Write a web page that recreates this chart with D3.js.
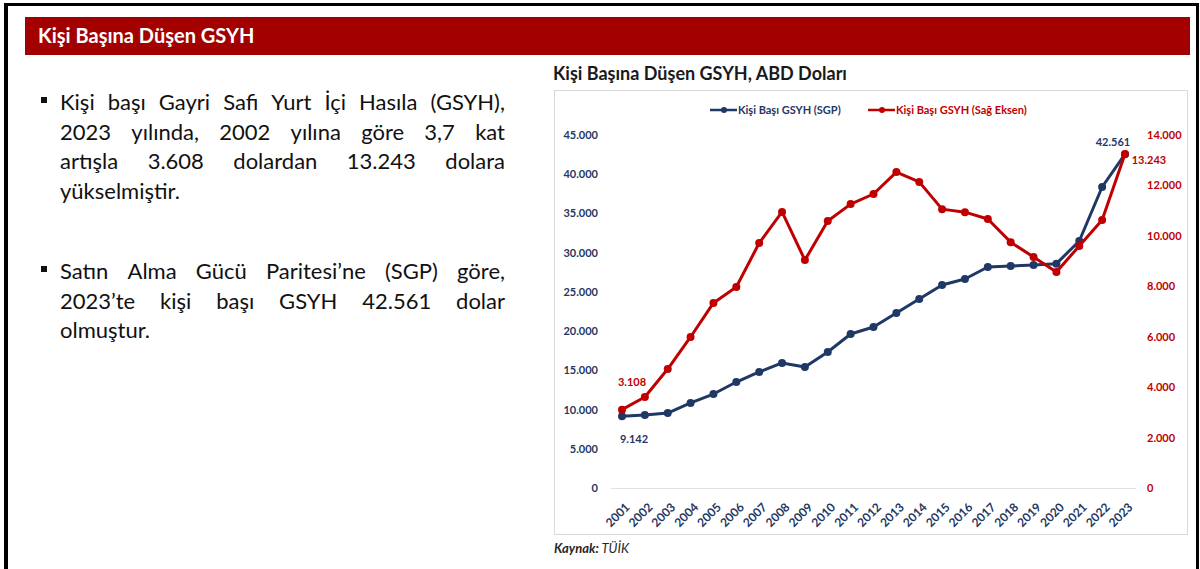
<!DOCTYPE html>
<html>
<head>
<meta charset="utf-8">
<script src="https://cdn.jsdelivr.net/npm/d3@7"></script>
<style>
  body { margin: 0; background: #fff; }
  svg { display: block; font-family: Lato, "Open Sans", sans-serif; }
</style>
</head>
<body>
<script>
// data
var years = d3.range(2001, 2024);
var sgp = [9142, 9300, 9560, 10840, 11980, 13510, 14790, 15940, 15420, 17340, 19630, 20520,
           22310, 24090, 25880, 26640, 28170, 28300, 28430, 28600, 31490, 38370, 42561];
var usd = [3108, 3608, 4717, 5990, 7340, 7970, 9715, 10950, 9040, 10590, 11260, 11660,
           12530, 12140, 11060, 10940, 10670, 9750, 9160, 8570, 9600, 10630, 13243];
var leftTicks = d3.range(0, 45001, 5000);
var rightTicks = d3.range(0, 14001, 2000);
var seriesNames = ["Kişi Başı GSYH (SGP)", "Kişi Başı GSYH (Sağ Eksen)"];

var para1 = ["Kişi başı Gayri Safi Yurt İçi Hasıla (GSYH),",
             "2023 yılında, 2002 yılına göre 3,7 kat",
             "artışla 3.608 dolardan 13.243 dolara",
             "yükselmiştir."];
var para2 = ["Satın Alma Gücü Paritesi’ne (SGP) göre,",
             "2023’te kişi başı GSYH 42.561 dolar",
             "olmuştur."];

var navy = "#1F3864", red = "#C00000";
var trFmt = d3.formatLocale({decimal: ",", thousands: ".", grouping: [3], currency: ["", ""]}).format(",");

var svg = d3.select("body").append("svg").attr("width", 1200).attr("height", 569);

// page frame
svg.append("path").attr("d", "M6,569V4.5H1197.5V569")
   .attr("fill", "none").attr("stroke", "#000").attr("stroke-width", 3);
svg.append("rect").attr("x", 4).attr("y", 3).attr("width", 4).attr("height", 566).attr("fill", "#000");

// header
svg.append("rect").attr("x", 25).attr("y", 17).attr("width", 1165).attr("height", 38).attr("fill", "#A30000");
svg.append("text").attr("x", 38).attr("y", 43).attr("fill", "#fff")
   .attr("font-size", 20).attr("font-weight", "bold").text("Kişi Başına Düşen GSYH");

// left text, justified
function justified(lines, top, lineH) {
  lines.forEach(function(line, i) {
    var words = line.split(" ");
    var y = top + i * lineH;
    var g = svg.append("g");
    var nodes = words.map(function(w) {
      return g.append("text").attr("y", y).attr("font-size", 22).attr("fill", "#111").text(w);
    });
    var widths = nodes.map(function(n) { return n.node().getComputedTextLength(); });
    var total = d3.sum(widths);
    var last = i === lines.length - 1;
    var gap = (!last && words.length > 1) ? (445 - total) / (words.length - 1) : 6;
    var x = 60;
    nodes.forEach(function(n, k) { n.attr("x", x); x += widths[k] + gap; });
  });
}
svg.append("rect").attr("x", 41).attr("y", 97).attr("width", 6).attr("height", 6).attr("fill", "#111");
justified(para1, 110, 29.5);
svg.append("rect").attr("x", 41).attr("y", 266).attr("width", 6).attr("height", 6).attr("fill", "#111");
justified(para2, 279, 29.5);

// chart title and box
svg.append("text").attr("x", 553).attr("y", 80).attr("font-size", 18).attr("font-weight", "bold")
   .attr("fill", "#1a1a1a").text("Kişi Başına Düşen GSYH, ABD Doları");
svg.append("rect").attr("x", 554.5).attr("y", 90.5).attr("width", 633).attr("height", 444)
   .attr("fill", "#fff").attr("stroke", "#d9d9d9");

var x = d3.scalePoint().domain(years).range([622, 1125]);
var yL = d3.scaleLinear().domain([0, 45000]).range([488, 135]);
var yR = d3.scaleLinear().domain([0, 14000]).range([488, 135]);

// baseline
svg.append("line").attr("x1", 611).attr("x2", 1136).attr("y1", 488.5).attr("y2", 488.5)
   .attr("stroke", "#e3e3e3");

var axL = svg.append("g").attr("transform", "translate(598,0)")
   .call(d3.axisLeft(yL).tickValues(leftTicks).tickFormat(trFmt).tickSize(0).tickPadding(0));
axL.select(".domain").remove();
axL.selectAll("text").attr("fill", navy).attr("font-size", 11).attr("font-weight", "bold")
   .attr("font-family", "Lato, sans-serif");

var axR = svg.append("g").attr("transform", "translate(1147,0)")
   .call(d3.axisRight(yR).tickValues(rightTicks).tickFormat(trFmt).tickSize(0).tickPadding(0));
axR.select(".domain").remove();
axR.selectAll("text").attr("fill", red).attr("font-size", 11).attr("font-weight", "bold")
   .attr("font-family", "Lato, sans-serif");

var axX = svg.append("g").attr("transform", "translate(0,488)")
   .call(d3.axisBottom(x).tickSize(0).tickPadding(0));
axX.select(".domain").remove();
axX.selectAll("text").attr("fill", navy).attr("font-size", 12).attr("font-weight", "bold")
   .attr("font-family", "Lato, sans-serif").attr("text-anchor", "end").attr("dy", null)
   .attr("y", 0).attr("transform", "translate(8,20) rotate(-45)");

// lines
function drawSeries(vals, yScale, color) {
  var line = d3.line().x(function(d, i) { return x(years[i]); }).y(function(d) { return yScale(d); });
  svg.append("path").datum(vals).attr("fill", "none").attr("stroke", color)
     .attr("stroke-width", 3).attr("stroke-linejoin", "round").attr("d", line);
  svg.append("g").selectAll("circle").data(vals).join("circle")
     .attr("cx", function(d, i) { return x(years[i]); }).attr("cy", function(d) { return yScale(d); })
     .attr("r", 4).attr("fill", color);
}
drawSeries(sgp, yL, navy);
drawSeries(usd, yR, red);

// data labels
function label(xv, yv, dx, dy, txt, color) {
  svg.append("text").attr("x", xv + dx).attr("y", yv + dy).attr("text-anchor", "middle")
     .attr("font-size", 11).attr("font-weight", "bold").attr("fill", color).text(txt);
}
label(x(years[0]), yL(sgp[0]), 12, 27, trFmt(sgp[0]), navy);
label(x(years[0]), yR(usd[0]), 10, -24, trFmt(usd[0]), red);
label(x(years[22]), yL(sgp[22]), -12, -8, trFmt(sgp[22]), navy);
label(x(years[22]), yR(usd[22]), 24, 10, trFmt(usd[22]), red);

// legend
var leg = [{x: 710, c: navy, t: seriesNames[0]}, {x: 868, c: red, t: seriesNames[1]}];
leg.forEach(function(l) {
  svg.append("line").attr("x1", l.x).attr("x2", l.x + 27).attr("y1", 110).attr("y2", 110)
     .attr("stroke", l.c).attr("stroke-width", 2.5);
  svg.append("circle").attr("cx", l.x + 14).attr("cy", 110).attr("r", 3).attr("fill", l.c);
  svg.append("text").attr("x", l.x + 28).attr("y", 114).attr("font-size", 11).attr("font-weight", "bold")
     .attr("fill", l.c).text(l.t);
});

// source
var src = svg.append("text").attr("x", 554).attr("y", 553).attr("font-size", 13)
   .attr("font-style", "italic").attr("fill", "#262626");
src.append("tspan").attr("font-weight", "bold").text("Kaynak:");
src.append("tspan").text(" TÜİK");
</script>
</body>
</html>
